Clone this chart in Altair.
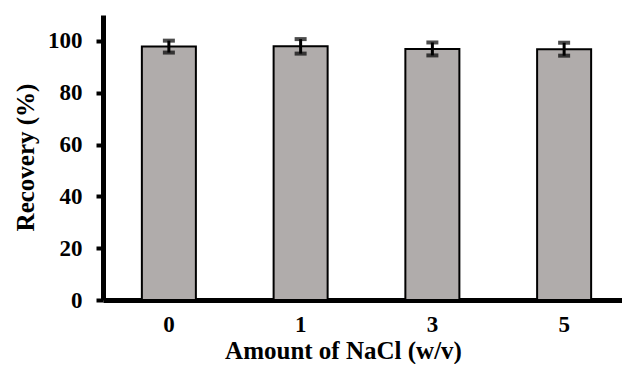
import altair as alt
import pandas as pd

categories = ["0", "1", "3", "5"]
recovery = [97.8, 97.9, 96.9, 96.8]
errors = [2.3, 2.8, 2.5, 2.5]
y_ticks = [0, 20, 40, 60, 80, 100]

df = pd.DataFrame({"nacl": categories, "recovery": recovery, "err": errors})
df["lo"] = df["recovery"] - df["err"]
df["hi"] = df["recovery"] + df["err"]

FONT = "Liberation Serif, Times New Roman, serif"
YT = "Recovery (%)"
XT = "Amount of NaCl (w/v)"
ysc = alt.Scale(domain=[0, 110], nice=False)
yax = alt.Axis(values=y_ticks)
xenc = alt.X("nacl:N", sort=categories, title=XT,
             scale=alt.Scale(paddingInner=0.59, paddingOuter=0.295, range=[0, 527]))

base = alt.Chart(df)
bars = base.mark_bar(fill="#b0acab", stroke="black", strokeWidth=2).encode(
    x=xenc, y=alt.Y("recovery:Q", title=YT, scale=ysc, axis=yax))
rule = base.mark_rule(color="black", strokeWidth=3).encode(
    x=xenc, y=alt.Y("lo:Q", title=YT, scale=ysc, axis=yax), y2="hi:Q")
cap_lo = base.mark_tick(color="black", thickness=4, size=12).encode(
    x=xenc, y=alt.Y("lo:Q", title=YT, scale=ysc, axis=yax))
cap_hi = base.mark_tick(color="black", thickness=4, size=12).encode(
    x=xenc, y=alt.Y("hi:Q", title=YT, scale=ysc, axis=yax))

chart = alt.layer(bars, rule, cap_lo, cap_hi).properties(
    width=519, height=285,
    autosize=alt.AutoSizeParams(type="none"),
    padding={"left": 95, "top": 7, "right": 0, "bottom": 64},
).configure_view(stroke=None).configure_axisX(
    labelAngle=0, ticks=False, domainWidth=5, domainColor="black", grid=False,
    labelFont=FONT, labelFontSize=23, labelFontWeight="bold", labelColor="black", labelPadding=13,
    titleFont=FONT, titleFontSize=25, titleFontWeight="bold", titleColor="black",
    titleX=240, titleY=50, titleBaseline="middle", titleAlign="center",
).configure_axisY(
    grid=False, domainWidth=5, domainColor="black",
    tickSize=7, tickWidth=4, tickColor="black",
    labelFont=FONT, labelFontSize=23, labelFontWeight="bold", labelColor="black", labelPadding=14,
    titleFont=FONT, titleFontSize=25, titleFontWeight="bold", titleColor="black",
    titleX=-78, titleY=142, titleBaseline="middle", titleAlign="center", titleAngle=-90,
)

chart.save("out.html", embed_options={"renderer": "svg", "actions": False})
